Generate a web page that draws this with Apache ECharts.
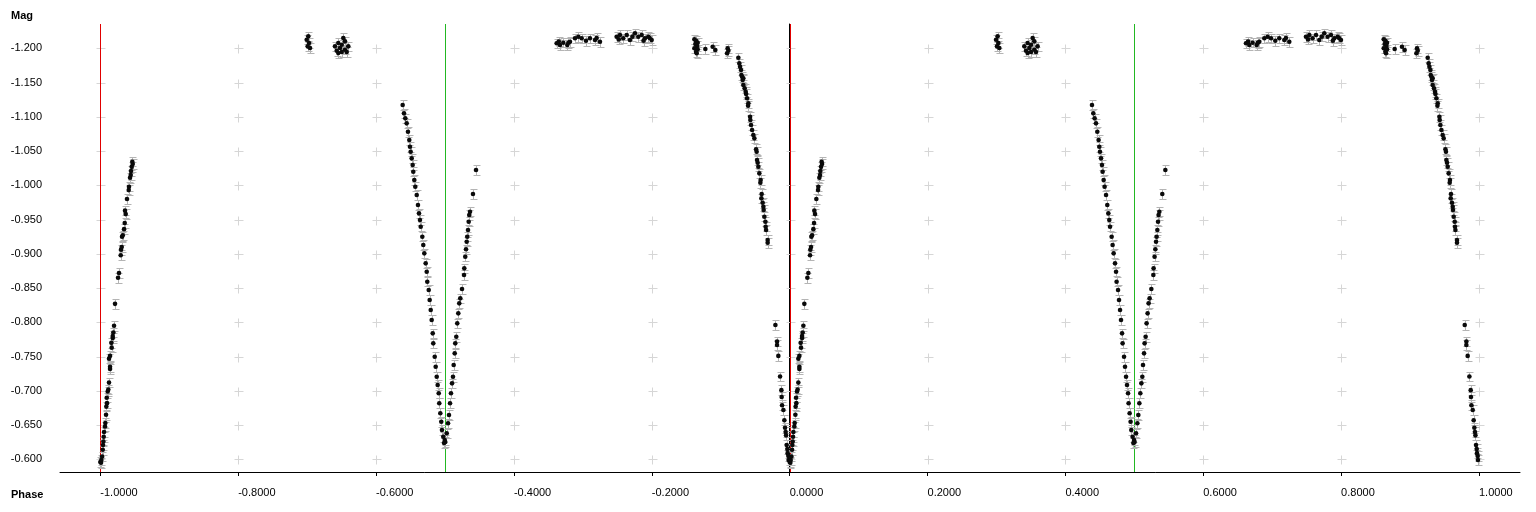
<!DOCTYPE html>
<html>
<head>
<meta charset="utf-8">
<script src="https://cdn.jsdelivr.net/npm/echarts@6/dist/echarts.min.js"></script>
<style>
html,body{margin:0;padding:0;background:#fff;}
#chart{width:1536px;height:512px;}
</style>
</head>
<body>
<div id="chart"></div>
<script>
// ---- data: one cycle of the folded light curve, [phase, mag] ----
const risingPrimary = [
  [0.0000,-0.596],[0.0010,-0.595],[0.0015,-0.599],[0.0025,-0.604],[0.0035,-0.614],[0.0039,-0.621],
  [0.0044,-0.626],[0.0049,-0.633],[0.0054,-0.640],[0.0068,-0.648],[0.0073,-0.653],[0.0083,-0.665],
  [0.0087,-0.677],[0.0097,-0.682],[0.0093,-0.690],[0.0107,-0.699],[0.0116,-0.702],[0.0126,-0.712],
  [0.0141,-0.732],[0.0141,-0.735],[0.0126,-0.747],[0.0141,-0.751],[0.0165,-0.763],[0.0160,-0.770],
  [0.0180,-0.777],[0.0180,-0.780],[0.0189,-0.785],[0.0199,-0.795],[0.0213,-0.827],[0.0257,-0.865],
  [0.0271,-0.872],[0.0296,-0.898],[0.0300,-0.906],[0.0310,-0.910],[0.0315,-0.925],[0.0325,-0.927],
  [0.0344,-0.936],[0.0354,-0.945],[0.0368,-0.958],[0.0358,-0.963],[0.0387,-0.980],[0.0412,-0.993],
  [0.0416,-0.998],[0.0431,-1.011],[0.0441,-1.015],[0.0445,-1.021],[0.0455,-1.027],[0.0470,-1.031],
  [0.0464,-1.0345]
];
const maxCluster1 = [
  [0.3017,-1.2175],[0.2994,-1.2126],[0.3027,-1.2077],[0.3008,-1.2029],[0.3042,-1.2004]
];
const maxCluster2 = [
  [0.3525,-1.2150],[0.3549,-1.2102],[0.3452,-1.2077],[0.3502,-1.2053],[0.3404,-1.2029],[0.3597,-1.2029],
  [0.3477,-1.2004],[0.3549,-1.1980],[0.3429,-1.1965],[0.3502,-1.1946],[0.3574,-1.1946],[0.3452,-1.1931]
];
const descSecondary = [
  [0.4386,-1.1172],[0.4405,-1.1051],[0.4424,-1.0978],[0.4444,-1.0905],[0.4463,-1.0782],[0.4482,-1.0661],
  [0.4492,-1.0563],[0.4502,-1.0491],[0.4517,-1.0394],[0.4531,-1.0296],[0.4540,-1.0199],[0.4555,-1.0077],
  [0.4569,-0.9980],[0.4590,-0.9858],[0.4608,-0.9712],[0.4623,-0.9591],[0.4637,-0.9493],[0.4648,-0.9396],
  [0.4671,-0.9250],[0.4685,-0.9128],[0.4700,-0.9007],[0.4720,-0.8861],[0.4735,-0.8739],[0.4743,-0.8593],
  [0.4764,-0.8471],[0.4778,-0.8326],[0.4793,-0.8180],[0.4807,-0.8034],[0.4822,-0.7839],[0.4830,-0.7693],
  [0.4851,-0.7498],[0.4865,-0.7352],[0.4880,-0.7206],[0.4894,-0.7085],[0.4909,-0.6964],[0.4917,-0.6818],
  [0.4932,-0.6672],[0.4946,-0.6549],[0.4956,-0.6428],[0.4975,-0.6330],[0.4996,-0.6282],[0.5004,-0.6253],
  [0.4986,-0.6238]
];
const risingSecondary = [
  [0.5025,-0.6380],[0.5044,-0.6526],[0.5058,-0.6647],[0.5073,-0.6818],[0.5087,-0.6964],[0.5102,-0.7109],
  [0.5116,-0.7206],[0.5126,-0.7377],[0.5141,-0.7547],[0.5149,-0.7693],[0.5164,-0.7790],[0.5178,-0.7985],
  [0.5193,-0.8131],[0.5207,-0.8277],[0.5222,-0.8350],[0.5247,-0.8486],[0.5276,-0.8690],[0.5280,-0.8788],
  [0.5294,-0.8958],[0.5305,-0.9066],[0.5315,-0.9177],[0.5323,-0.9250],[0.5334,-0.9347],[0.5344,-0.9469],
  [0.5352,-0.9566],[0.5363,-0.9615],[0.5406,-0.9873],[0.5450,-1.0223]
];
const maxPlateau = [
  [0.6620,-1.2073],[0.6668,-1.2048],[0.6716,-1.2082],[0.6774,-1.2048],[0.6813,-1.2096],[0.6886,-1.2146],
  [0.6934,-1.2169],[0.6983,-1.2146],[0.7045,-1.2111],[0.7103,-1.2146],[0.7176,-1.2121],[0.7248,-1.2096],
  [0.7490,-1.2169],[0.7538,-1.2194],[0.7586,-1.2146],[0.7636,-1.2194],[0.7683,-1.2121],[0.7756,-1.2219],
  [0.7804,-1.2169],[0.7853,-1.2194],[0.7901,-1.2146],[0.7949,-1.2169],[0.7998,-1.2121],[0.6650,-1.2100],
  [0.6790,-1.2080],[0.7200,-1.2150],[0.7520,-1.2130],[0.7720,-1.2170],[0.7880,-1.2110],[0.7970,-1.2150]
];
const descPrimary = [
  [0.8618,-1.2131],[0.8642,-1.2111],[0.8666,-1.2082],[0.8632,-1.2063],[0.8657,-1.2034],[0.8618,-1.2000],
  [0.8666,-1.1985],[0.8642,-1.1950],[0.8651,-1.1927],[0.8777,-1.1990],[0.8883,-1.2023],[0.8922,-1.1975],
  [0.9101,-1.2000],[0.9092,-1.1927],[0.9111,-1.1965],[0.9256,-1.1863],[0.9270,-1.1780],[0.9281,-1.1731],
  [0.9295,-1.1683],[0.9300,-1.1610],[0.9310,-1.1585],[0.9328,-1.1562],[0.9318,-1.1537],[0.9328,-1.1464],
  [0.9347,-1.1416],[0.9362,-1.1366],[0.9368,-1.1333],[0.9382,-1.1270],[0.9401,-1.1197],[0.9397,-1.1162],
  [0.9426,-1.1001],[0.9430,-1.0953],[0.9440,-1.0880],[0.9455,-1.0807],[0.9473,-1.0734],[0.9488,-1.0686],
  [0.9513,-1.0526],[0.9521,-1.0491],[0.9527,-1.0369],[0.9536,-1.0330],[0.9546,-1.0272],[0.9560,-1.0175],
  [0.9579,-1.0077],[0.9575,-1.0038],[0.9594,-0.9873],[0.9590,-0.9810],[0.9608,-0.9746],[0.9619,-0.9688],
  [0.9623,-0.9640],[0.9633,-0.9542],[0.9648,-0.9469],[0.9652,-0.9396],[0.9658,-0.9347],[0.9681,-0.9201],
  [0.9681,-0.9162],
  [0.9793,-0.796],[0.9817,-0.772],[0.9817,-0.767],[0.9836,-0.751],[0.9861,-0.721],[0.9880,-0.701],
  [0.9884,-0.691],[0.9890,-0.679],[0.9909,-0.672],[0.9923,-0.657],[0.9933,-0.646],[0.9942,-0.640],
  [0.9948,-0.635],[0.9957,-0.621],[0.9967,-0.615],[0.9971,-0.609],[0.9981,-0.605],[0.9985,-0.599]
];
const ERR = 0.007;
const xTicks = [-1.0,-0.8,-0.6,-0.4,-0.2,0.0,0.2,0.4,0.6,0.8,1.0];
const yTicks = [-1.2,-1.15,-1.1,-1.05,-1.0,-0.95,-0.9,-0.85,-0.8,-0.75,-0.7,-0.65,-0.6];
const redLines = [-1.0, 0.0];
const greenLines = [-0.5, 0.5];
const cycleOffsets = [-1, 0];

// ---- build ----
const cycle = [].concat(risingPrimary, maxCluster1, maxCluster2, descSecondary, risingSecondary, maxPlateau, descPrimary);
const pts = [];
cycleOffsets.forEach(o => cycle.forEach(p => pts.push([p[0] + o, p[1]])));
const crosses = [];
xTicks.forEach(x => yTicks.forEach(y => crosses.push([x, y])));
const vlines = redLines.map(v => [v, 0]).concat(greenLines.map(v => [v, 1]));
const VCOL = ['#e00000', '#22b822'];

const chart = echarts.init(document.getElementById('chart'), null, {renderer: 'canvas'});
const FONT = 'Liberation Sans';
const r = v => Math.round(v) + 0.5;

chart.setOption({
  animation: false,
  backgroundColor: '#ffffff',
  grid: {left: 60, top: 24, right: 16, bottom: 40, containLabel: false},
  xAxis: {
    type: 'value', min: -1.0585, max: 1.0595,
    axisLine: {show: true, lineStyle: {color: '#000', width: 1}},
    axisTick: {show: true, customValues: xTicks, length: 4, lineStyle: {color: '#000'}},
    axisLabel: {customValues: xTicks, formatter: v => v.toFixed(4), align: 'left', margin: 15,
      color: '#000', fontFamily: FONT, fontSize: 11},
    splitLine: {show: false}
  },
  yAxis: {
    type: 'value', inverse: true, min: -1.2355, max: -0.5815,
    axisLine: {show: true, lineStyle: {color: '#000', width: 1}},
    axisTick: {show: false},
    axisLabel: {customValues: yTicks, formatter: v => v.toFixed(3), margin: 18,
      color: '#000', fontFamily: FONT, fontSize: 11},
    splitLine: {show: false}
  },
  graphic: [
    {type: 'text', left: 11, top: 10, style: {text: 'Mag', font: 'bold 11px "Liberation Sans"', fill: '#000'}},
    {type: 'text', left: 11, top: 489, style: {text: 'Phase', font: 'bold 11px "Liberation Sans"', fill: '#000'}}
  ],
  series: [
    {
      type: 'custom', silent: true, z: 1,
      data: crosses,
      renderItem: (params, api) => {
        const c = api.coord([api.value(0), api.value(1)]);
        const x = r(c[0]), y = r(c[1]);
        return {type: 'group', children: [
          {type: 'line', shape: {x1: x - 4, y1: y, x2: x + 5, y2: y}, style: {stroke: '#d6d6d6', lineWidth: 1}},
          {type: 'line', shape: {x1: x, y1: y - 4, x2: x, y2: y + 5}, style: {stroke: '#d6d6d6', lineWidth: 1}}
        ]};
      }
    },
    {
      type: 'custom', silent: true, z: 2,
      data: vlines,
      renderItem: (params, api) => {
        const c = api.coord([api.value(0), -1]);
        const cs = params.coordSys;
        const x = r(c[0]);
        return {type: 'line', shape: {x1: x, y1: cs.y, x2: x, y2: cs.y + cs.height},
          style: {stroke: VCOL[api.value(1)], lineWidth: 1}};
      }
    },
    {
      type: 'custom', silent: true, z: 3,
      data: pts,
      renderItem: (params, api) => {
        const a = api.coord([api.value(0), api.value(1) - ERR]);
        const b = api.coord([api.value(0), api.value(1) + ERR]);
        const x = r(a[0]);
        const y1 = r(a[1]), y2 = r(b[1]);
        const st = {stroke: '#b4b4b4', lineWidth: 1};
        return {type: 'group', children: [
          {type: 'line', shape: {x1: x, y1: y1, x2: x, y2: y2}, style: st},
          {type: 'line', shape: {x1: x - 3, y1: y1, x2: x + 4, y2: y1}, style: st},
          {type: 'line', shape: {x1: x - 3, y1: y2, x2: x + 4, y2: y2}, style: st}
        ]};
      }
    },
    {
      type: 'scatter', z: 4, silent: true,
      data: pts,
      symbol: 'circle', symbolSize: 4.6,
      itemStyle: {color: '#0a0a0a', opacity: 1}
    }
  ]
});
</script>
</body>
</html>
